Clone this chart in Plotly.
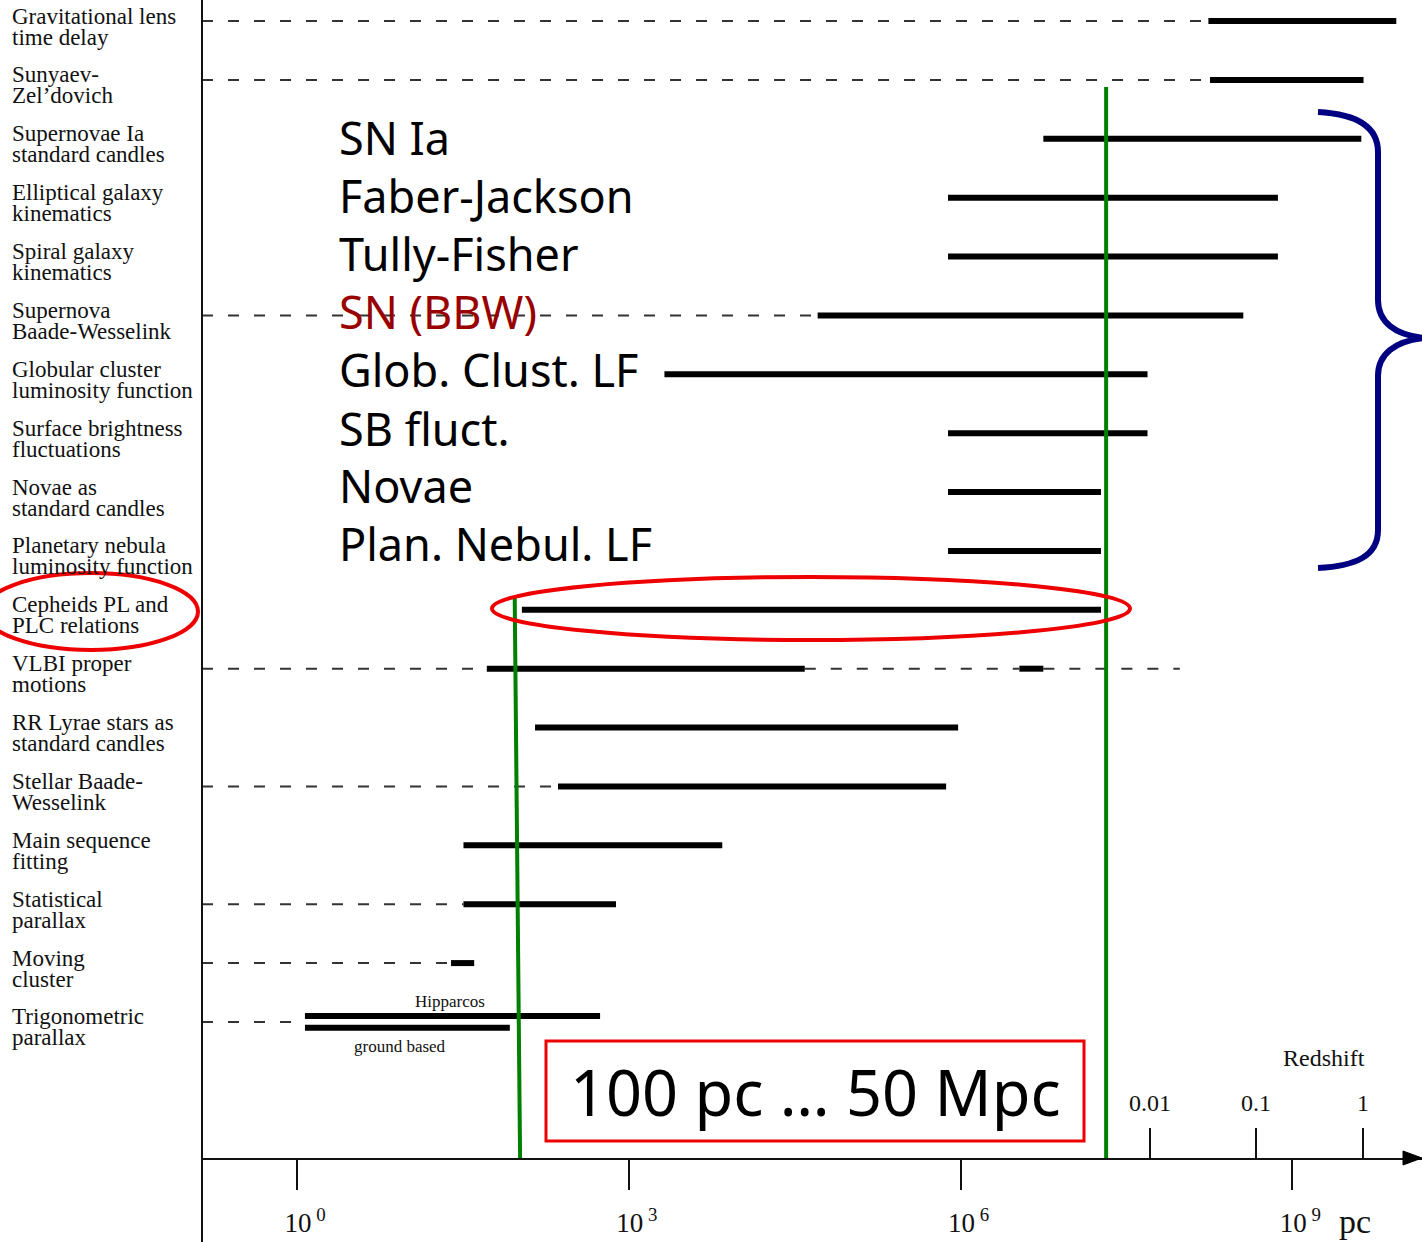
import plotly.graph_objects as go

# ---------------------------------------------------------------------------
# Distance indicators and the range (in parsec) over which each one works
# ---------------------------------------------------------------------------
method_line1 = [
    "Gravitational lens", "Sunyaev-", "Supernovae Ia", "Elliptical galaxy",
    "Spiral galaxy", "Supernova", "Globular cluster", "Surface brightness",
    "Novae as", "Planetary nebula", "Cepheids PL and", "VLBI proper",
    "RR Lyrae stars as", "Stellar Baade-", "Main sequence", "Statistical",
    "Moving", "Trigonometric",
]
method_line2 = [
    "time delay", "Zel\u2019dovich", "standard candles", "kinematics",
    "kinematics", "Baade-Wesselink", "luminosity function", "fluctuations",
    "standard candles", "luminosity function", "PLC relations", "motions",
    "standard candles", "Wesselink", "fitting", "parallax",
    "cluster", "parallax",
]
bar_start_pc = [1.74e8, 1.8e8, 5.6e6, 7.7e5, 7.7e5, 5.1e4, 2.1e3, 7.7e5, 7.7e5,
                7.7e5, 108, 52, 142, 229, 32, 32, 24.7, 1.18]
bar_end_pc = [8.7e9, 4.4e9, 4.2e9, 7.4e8, 7.4e8, 3.6e8, 4.9e7, 4.9e7, 1.86e7,
              1.86e7, 1.86e7, 3.9e4, 9.5e5, 7.4e5, 7.0e3, 766, 40, 550]
dashed_lead_in = [True, True, False, False, False, True, False, False, False,
                  False, False, True, False, True, False, True, True, True]

# VLBI: second short detection range and the dashed continuation beyond it
vlbi_extra_pc = [3.4e6, 5.6e6]
vlbi_dash_end_pc = 9.6e7

# Trigonometric parallax: Hipparcos (the row's main bar) and ground based
ground_based_pc = [1.18, 84]

# Overlay: short names of the extragalactic methods
short_names = ["SN Ia", "Faber-Jackson", "Tully-Fisher", "SN (BBW)",
               "Glob. Clust. LF", "SB fluct.", "Novae", "Plan. Nebul. LF"]
short_colors = ["#000000", "#000000", "#000000", "#990000",
                "#000000", "#000000", "#000000", "#000000"]

# Marked distance window
window_pc = [100, 2.07e7]
window_label = "100 pc \u2026 50 Mpc"

# Axis ticks
pc_tick_exponents = [0, 3, 6, 9]
redshift_labels = ["0.01", "0.1", "1"]
redshift_pc = [5.16e7, 4.69e8, 4.35e9]

# ---------------------------------------------------------------------------
# Geometry
# ---------------------------------------------------------------------------
W, H = 1422, 1242
ML, MR, MT, MB = 202, 0, 0, 84
PW, PH = W - ML - MR, H - MT - MB

X_LOG_MIN, X_LOG_MAX = -0.859, 10.172
ROW0_PX, ROW_STEP_PX = 21.0, 58.88
Y_TOP = -ROW0_PX / ROW_STEP_PX
Y_BOTTOM = (PH - ROW0_PX) / ROW_STEP_PX
X_LEFT_PC = 10 ** X_LOG_MIN

SERIF = "Liberation Serif, Times New Roman, serif"
HAND = "Noto Sans, sans-serif"
INK = "#111111"


def px_x(px):
    return (px - ML) / PW


def px_y(py):
    return (MT + PH - py) / PH


n = len(method_line1)
hip_off, ground_off = -0.10, 0.10

# solid ranges
sx, sy = [], []
for i in range(n):
    y = i + (hip_off if i == n - 1 else 0.0)
    sx += [bar_start_pc[i], bar_end_pc[i], None]
    sy += [y, y, None]
sx += [vlbi_extra_pc[0], vlbi_extra_pc[1], None]
sy += [11, 11, None]
sx += [ground_based_pc[0], ground_based_pc[1], None]
sy += [n - 1 + ground_off] * 2 + [None]

# dashed extensions
dx, dy = [], []
for i in range(n):
    if dashed_lead_in[i]:
        dx += [X_LEFT_PC, bar_start_pc[i], None]
        dy += [i, i, None]
dx += [bar_end_pc[11], vlbi_extra_pc[0], None, vlbi_extra_pc[1], vlbi_dash_end_pc, None]
dy += [11, 11, None, 11, 11, None]

fig = go.Figure()
fig.add_trace(go.Scatter(x=dx, y=dy, mode="lines", hoverinfo="skip",
                         line=dict(color="#333333", width=2, dash="11px,15px")))
fig.add_trace(go.Scatter(x=sx, y=sy, mode="lines", hoverinfo="skip",
                         line=dict(color="#000000", width=6)))
# carrier for the redshift scale
fig.add_trace(go.Scatter(x=redshift_pc, y=[None] * len(redshift_pc), xaxis="x2",
                         mode="markers", hoverinfo="skip", showlegend=False))

shapes = []
# left frame line, running down past the distance axis
shapes.append(dict(type="line", xref="paper", yref="paper", x0=0, x1=0,
                   y0=1, y1=-MB / PH, line=dict(color=INK, width=2)))
# arrow head at the end of the distance axis
shapes.append(dict(type="path", xref="paper", yref="paper",
                   path=f"M {px_x(1403)},{px_y(1151)} L {px_x(1422)},{px_y(1158)} "
                        f"L {px_x(1403)},{px_y(1165)} Z",
                   fillcolor="#000000", line=dict(color="#000000", width=1)))
# green markers of the distance window
shapes.append(dict(type="line", xref="x", yref="paper",
                   x0=window_pc[0] * 0.93, x1=window_pc[0] * 1.04,
                   y0=px_y(598), y1=0, line=dict(color="#008000", width=4)))
shapes.append(dict(type="line", xref="x", yref="paper",
                   x0=window_pc[1], x1=window_pc[1],
                   y0=px_y(87), y1=0, line=dict(color="#008000", width=4)))
# red ellipses around the Cepheid row and its label
shapes.append(dict(type="circle", xref="paper", yref="paper",
                   x0=px_x(492), x1=px_x(1130), y0=px_y(577), y1=px_y(640),
                   line=dict(color="#ee0000", width=4)))
shapes.append(dict(type="circle", xref="paper", yref="paper",
                   x0=px_x(-16), x1=px_x(198), y0=px_y(573), y1=px_y(650),
                   line=dict(color="#ee0000", width=4)))
# red frame around the window label
shapes.append(dict(type="rect", xref="paper", yref="paper",
                   x0=px_x(546), x1=px_x(1084), y0=px_y(1041), y1=px_y(1141),
                   line=dict(color="#ee0000", width=3)))
# navy brace grouping the extragalactic methods
brace = [
    ("M", [(1318, 112)]),
    ("C", [(1356, 114), (1378, 126), (1378, 152)]),
    ("L", [(1378, 300)]),
    ("C", [(1378, 322), (1395, 335), (1424, 338)]),
    ("C", [(1395, 341), (1378, 354), (1378, 376)]),
    ("L", [(1378, 530)]),
    ("C", [(1378, 556), (1356, 566), (1318, 568)]),
]
path = " ".join(cmd + " " + " ".join(f"{px_x(a)},{px_y(b)}" for a, b in pts)
                for cmd, pts in brace)
shapes.append(dict(type="path", xref="paper", yref="paper", path=path,
                   line=dict(color="#000080", width=6)))

annotations = []
for i in range(n):
    for txt, shift in ((method_line1[i], 5), (method_line2[i], -16)):
        annotations.append(dict(text=txt, xref="paper", yref="y", x=px_x(10), y=i,
                                yshift=shift, xanchor="left", yanchor="middle",
                                showarrow=False,
                                font=dict(family=SERIF, size=23, color=INK)))

short_y_px = [138, 196, 253, 312, 370, 428, 485, 543]
for name, col, ypx in zip(short_names, short_colors, short_y_px):
    annotations.append(dict(text=name, xref="paper", yref="paper", x=px_x(337),
                            y=px_y(ypx), xanchor="left", yanchor="middle",
                            showarrow=False,
                            font=dict(family=HAND, size=45, color=col)))

annotations.append(dict(text=window_label, xref="paper", yref="paper",
                        x=px_x(815), y=px_y(1091), xanchor="center", yanchor="middle",
                        showarrow=False, font=dict(family=HAND, size=63, color="#000000")))
annotations.append(dict(text="Hipparcos", xref="paper", yref="paper",
                        x=px_x(450), y=px_y(1001), xanchor="center", yanchor="middle",
                        showarrow=False, font=dict(family=SERIF, size=17, color=INK)))
annotations.append(dict(text="ground based", xref="paper", yref="paper",
                        x=px_x(400), y=px_y(1046), xanchor="center", yanchor="middle",
                        showarrow=False, font=dict(family=SERIF, size=17, color=INK)))
annotations.append(dict(text="Redshift", xref="paper", yref="paper",
                        x=px_x(1324), y=px_y(1058), xanchor="center", yanchor="middle",
                        showarrow=False, font=dict(family=SERIF, size=24, color=INK)))
annotations.append(dict(text="pc", xref="paper", yref="paper",
                        x=px_x(1355), y=px_y(1222), xanchor="center", yanchor="middle",
                        showarrow=False, font=dict(family=SERIF, size=34, color=INK)))

fig.update_layout(
    width=W, height=H,
    margin=dict(l=ML, r=MR, t=MT, b=MB, pad=0),
    paper_bgcolor="white", plot_bgcolor="white",
    showlegend=False,
    shapes=shapes,
    annotations=annotations,
    xaxis=dict(type="log", range=[X_LOG_MIN, X_LOG_MAX], showgrid=False,
               zeroline=False, showline=True, linecolor=INK, linewidth=2,
               ticks="outside", ticklen=30, tickwidth=2, tickcolor=INK,
               tickvals=[10 ** e for e in pc_tick_exponents],
               ticktext=[f"10<sup> {e}</sup>" for e in pc_tick_exponents],
               tickfont=dict(family=SERIF, size=27, color=INK),
               ticklabelstandoff=10, ticklabelshift=8),
    xaxis2=dict(type="log", range=[X_LOG_MIN, X_LOG_MAX], overlaying="x",
                anchor="y", side="bottom", showgrid=False, zeroline=False,
                showline=False, ticks="inside", ticklen=30, tickwidth=2,
                tickcolor=INK, tickvals=redshift_pc, ticktext=redshift_labels,
                ticklabelposition="inside", ticklabelstandoff=14,
                tickfont=dict(family=SERIF, size=24, color=INK)),
    yaxis=dict(range=[Y_BOTTOM, Y_TOP], showgrid=False, zeroline=False,
               showticklabels=False, ticks="", showline=False),
)

fig.write_html("out.html")
